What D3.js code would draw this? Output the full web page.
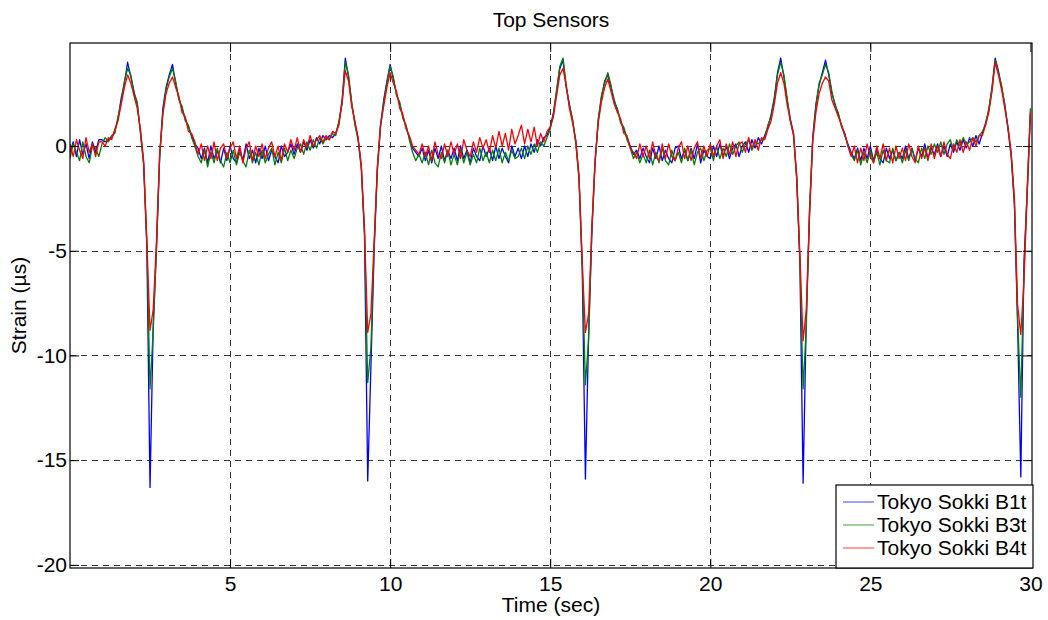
<!DOCTYPE html>
<html>
<head>
<meta charset="utf-8">
<script src="https://cdn.jsdelivr.net/npm/d3@7"></script>
<style>
  html, body { margin: 0; padding: 0; background: #fff; }
  svg { display: block; font-family: "Liberation Sans", Arial, Helvetica, sans-serif; }
</style>
</head>
<body>
<svg id="chart" width="1048" height="620"></svg>
<script>
const sampleStart = 0;
const sampleStep = 0.1;

const seriesNames = ["Tokyo Sokki B1t", "Tokyo Sokki B3t", "Tokyo Sokki B4t"];
const seriesColors = ["#0000ff", "#008000", "#ff0000"];

const b1t = [
  -0.3, 0.2, -0.5, 0.3, -0.4, 0.1, -0.6, 0.2, -0.3, 0.3,
  0.3, 0.2, 0.3, 0.4, 0.7, 1.3, 2.3, 3.0, 4.0, 3.3,
  2.6, 2.0, 0.7, -0.8, -4.8, -16.3, -8.5, -5.0, -0.5, 1.8,
  2.8, 3.4, 3.9, 3.0, 2.3, 1.8, 1.3, 0.9, 0.5, 0.1,
  -0.1, -0.6, -0.1, -0.8, 0.0, -0.6, -0.2, -0.8, -0.1, -0.7,
  0.0, -0.6, -0.8, -0.1, -0.7, 0.1, -0.6, -0.2, -0.8, -0.1,
  -0.6, 0.0, -0.7, -0.2, -0.5, -0.8, 0.0, -0.5, -0.3, 0.1,
  -0.4, 0.1, -0.3, 0.2, -0.2, 0.3, -0.1, 0.4, 0.1, 0.5,
  0.3, 0.5, 0.4, 0.6, 1.1, 2.2, 4.2, 3.3, 2.0, 1.1,
  0.4, -1.0, -4.3, -16.0, -10.5, -5.0, -1.0, 1.0, 2.2, 3.1,
  3.9, 3.2, 2.5, 2.0, 1.4, 0.9, 0.4, -0.1, -0.3, -0.5,
  -0.1, -0.7, -0.2, -0.8, -0.1, -0.6, 0.0, -0.7, -0.2, -0.6,
  -0.1, -0.7, 0.0, -0.6, -0.2, -0.8, -0.1, -0.5, -0.7, 0.0,
  -0.5, -0.1, -0.7, 0.0, -0.6, -0.1, -0.5, -0.8, 0.0, -0.5,
  -0.1, -0.6, 0.0, -0.5, 0.1, -0.3, 0.3, 0.0, 0.4, 0.5,
  0.9, 1.6, 2.6, 3.7, 4.1, 2.8, 2.0, 1.2, 0.2, -1.5,
  -5.8, -15.9, -9.0, -4.2, -0.8, 1.2, 2.3, 3.1, 3.4, 2.8,
  2.2, 1.7, 1.2, 0.8, 0.4, 0.0, -0.4, -0.2, -0.6, -0.1,
  -0.5, -0.8, -0.1, -0.6, 0.0, -0.7, -0.2, -0.6, -0.8, -0.1,
  0.0, -0.6, -0.2, -0.7, -0.1, -0.6, 0.1, -0.8, -0.2, -0.5,
  -0.6, 0.0, -0.5, 0.1, -0.5, 0.0, -0.6, -0.1, 0.1, -0.5,
  0.0, 0.2, -0.3, 0.3, -0.1, 0.4, 0.1, 0.5, 0.9, 1.5,
  2.3, 3.5, 4.2, 3.3, 2.2, 1.3, 0.6, -1.5, -5.6, -16.1,
  -8.2, -3.2, 0.4, 2.0, 2.9, 3.5, 4.1, 3.4, 2.5, 2.0,
  1.5, 1.0, 0.5, 0.1, -0.3, -0.6, -0.1, -0.7, -0.1, -0.6,
  0.0, -0.7, -0.2, -0.6, -0.8, -0.1, -0.6, -0.2, -0.7, -0.3,
  -0.6, 0.0, -0.6, -0.1, -0.7, -0.1, -0.5, 0.1, -0.6, -0.1,
  -0.4, 0.1, -0.5, 0.0, -0.5, 0.1, -0.3, 0.2, -0.2, 0.3,
  -0.1, 0.4, 0.0, 0.5, 0.1, 0.6, 1.1, 1.7, 2.8, 4.2,
  3.6, 2.8, 2.0, 0.8, -0.5, -2.8, -8.5, -15.8, -5.5, -2.2,
  1.5
];

const b3t = [
  -0.6, 0.1, -0.3, -0.7, 0.2, -0.5, -0.8, 0.0, -0.1, -0.5,
  0.1, 0.4, 0.2, 0.5, 0.6, 1.4, 2.1, 3.1, 3.7, 3.4,
  2.5, 2.1, 0.6, -0.9, -4.6, -11.6, -8.8, -4.8, -0.6, 1.6,
  2.7, 3.3, 3.7, 3.1, 2.2, 1.9, 1.2, 1.0, 0.4, 0.0,
  -0.5, -0.8, -0.2, -1.0, -0.3, -0.8, -0.1, -0.7, -1.0, -0.3,
  -0.8, -0.2, -0.9, -0.3, -0.7, -1.0, -0.2, -0.8, -0.3, -0.9,
  -0.2, -0.8, -0.4, -0.1, -0.9, -0.3, -0.8, -0.1, -0.7, -0.2,
  -0.6, -0.1, 0.1, -0.4, 0.2, -0.2, 0.3, -0.1, 0.4, 0.1,
  0.4, 0.3, 0.6, 0.5, 1.2, 2.0, 4.0, 3.4, 2.1, 1.0,
  0.3, -1.1, -4.1, -11.3, -9.6, -4.8, -1.2, 0.9, 2.1, 3.0,
  3.8, 3.3, 2.4, 2.1, 1.3, 1.0, 0.3, -0.3, -0.7, -0.4,
  -0.8, -0.3, -0.9, -0.2, -0.8, -1.0, -0.3, -0.8, -0.2, -0.9,
  -0.4, -0.9, -0.2, -0.8, -0.3, -0.9, -0.4, -0.8, -0.1, -0.7,
  -0.3, -0.8, -0.2, -0.7, -0.1, -0.8, -0.3, -0.7, -0.2, -0.6,
  -0.5, -0.1, -0.6, 0.0, -0.4, 0.1, -0.3, 0.2, 0.0, 0.4,
  0.8, 1.5, 2.7, 3.8, 4.2, 2.9, 1.9, 1.3, 0.1, -1.6,
  -5.6, -11.4, -9.2, -4.0, -0.9, 1.3, 2.4, 3.0, 3.5, 2.9,
  2.1, 1.8, 1.1, 0.9, 0.3, -0.1, -0.6, -0.3, -0.8, -0.4,
  -0.8, -0.2, -0.9, -0.3, -0.8, -0.1, -0.7, -0.9, -0.2, -0.7,
  -0.3, -0.8, -0.1, -0.7, -0.2, -0.9, -0.3, -0.1, -0.7, -0.2,
  -0.1, -0.7, 0.0, -0.6, -0.1, -0.5, 0.1, -0.4, 0.0, 0.2,
  -0.3, 0.1, 0.3, -0.2, 0.2, 0.1, 0.3, 0.4, 1.0, 1.4,
  2.2, 3.4, 4.0, 3.4, 2.3, 1.2, 0.5, -1.6, -5.4, -11.6,
  -8.6, -3.0, 0.3, 1.9, 3.0, 3.4, 3.9, 3.5, 2.6, 1.9,
  1.6, 0.9, 0.6, 0.0, -0.4, -0.7, -0.2, -0.9, -0.3, -0.8,
  -0.2, -0.8, -0.3, -0.9, -0.2, -0.7, -0.8, -0.1, -0.7, -0.3,
  -0.8, -0.2, -0.7, -0.1, -0.6, -0.8, -0.1, -0.6, 0.0, -0.4,
  0.1, -0.3, 0.2, -0.4, 0.1, 0.3, -0.2, 0.3, 0.0, 0.4,
  0.1, 0.2, 0.4, 0.2, 0.5, 0.7, 1.0, 1.8, 2.7, 4.1,
  3.5, 2.9, 1.9, 0.9, -0.4, -2.6, -8.2, -12.0, -6.0, -2.0,
  1.8
];

const b4t = [
  0.1, -0.5, 0.3, -0.2, -0.6, 0.4, -0.3, 0.1, -0.5, 0.2,
  0.2, 0.0, 0.4, 0.3, 0.8, 1.2, 2.0, 2.8, 3.4, 3.0,
  2.4, 1.8, 0.8, -0.7, -4.5, -8.8, -7.8, -4.6, -0.4, 1.5,
  2.5, 3.0, 3.3, 2.8, 2.4, 1.6, 1.4, 0.7, 0.6, 0.2,
  -0.4, 0.1, -0.7, 0.0, -0.6, 0.2, -0.7, -0.1, 0.1, -0.6,
  -0.1, 0.2, -0.6, 0.0, -0.8, -0.1, 0.2, -0.7, 0.0, -0.5,
  0.1, -0.6, -0.1, 0.2, -0.5, 0.0, -0.7, 0.1, -0.3, 0.3,
  -0.2, 0.4, -0.3, 0.3, -0.1, 0.5, 0.0, 0.3, 0.5, 0.2,
  0.5, 0.3, 0.7, 0.6, 1.0, 2.1, 3.6, 3.1, 1.9, 1.2,
  0.3, -0.9, -4.0, -8.9, -8.0, -4.6, -1.1, 1.0, 1.9, 2.8,
  3.5, 3.0, 2.6, 1.8, 1.5, 0.8, 0.5, 0.0, -0.2, -0.4,
  0.1, -0.5, 0.0, -0.7, 0.2, -0.4, -0.6, 0.1, -0.5, 0.2,
  -0.4, 0.1, -0.6, 0.3, -0.2, -0.5, 0.2, -0.3, 0.4, -0.1,
  0.3, -0.3, 0.5, -0.1, 0.7, 0.0, 0.6, -0.2, 0.8, 0.1,
  0.5, 1.0, 0.1, 0.8, 0.2, 0.9, 0.0, 0.6, 0.2, 0.7,
  0.9, 1.4, 2.4, 3.4, 3.7, 2.9, 1.8, 1.1, 0.3, -1.4,
  -5.5, -8.9, -8.0, -3.9, -0.7, 1.1, 2.1, 2.8, 3.2, 2.6,
  2.0, 1.6, 1.3, 0.6, 0.5, -0.1, -0.3, -0.6, 0.1, -0.5,
  0.0, -0.6, 0.2, -0.5, -0.7, 0.1, -0.6, 0.1, -0.5, -0.7,
  -0.1, 0.2, -0.6, 0.0, -0.7, -0.1, 0.2, -0.6, 0.0, -0.5,
  0.1, -0.5, 0.0, 0.3, -0.6, 0.1, -0.4, 0.2, -0.5, 0.1,
  0.2, -0.3, 0.4, -0.1, 0.3, -0.2, 0.4, 0.3, 0.8, 1.2,
  2.0, 3.0, 3.5, 3.0, 2.0, 1.2, 0.6, -1.4, -5.2, -9.3,
  -7.8, -3.4, 0.2, 1.6, 2.5, 3.0, 3.3, 3.1, 2.2, 1.8,
  1.4, 1.0, 0.6, 0.0, -0.5, 0.0, -0.8, -0.1, -0.7, 0.1,
  -0.5, -0.8, 0.0, -0.6, 0.1, -0.7, -0.1, -0.8, 0.0, -0.6,
  -0.1, -0.7, 0.1, -0.5, -0.8, 0.0, -0.6, -0.1, -0.7, 0.1,
  -0.6, 0.0, -0.5, 0.2, -0.4, -0.6, 0.1, -0.3, 0.3, -0.3,
  0.2, -0.2, 0.4, 0.0, 0.5, 0.5, 1.0, 1.6, 2.6, 4.0,
  3.4, 2.7, 1.8, 0.9, -0.3, -2.5, -7.6, -9.0, -6.4, -2.3,
  1.6
];

const xTicks = [5, 10, 15, 20, 25, 30];
const yTicks = [-20, -15, -10, -5, 0];
const xDomain = [0, 30.05];
const yDomain = [-20.15, 4.92];

const titleText = "Top Sensors";
const xLabel = "Time (sec)";
const yLabel = "Strain (\u00b5s)";

// ---- drawing ----
const svg = d3.select("#chart");
const L = 70, R = 1032, T = 43, B = 568;
const FS = 21;
const x = d3.scaleLinear().domain(xDomain).range([L, R]);
const y = d3.scaleLinear().domain(yDomain).range([B, T]);

const allSeries = [b1t, b3t, b4t].map((vals, k) => ({
  name: seriesNames[k],
  color: seriesColors[k],
  points: vals.map((v, i) => ({ t: sampleStart + i * sampleStep, v }))
}));

svg.append("rect").attr("x", 0).attr("y", 0).attr("width", 1048).attr("height", 620).attr("fill", "#fff");

// grid
const grid = svg.append("g");
grid.selectAll("line.gx").data(xTicks.filter(d => d < 30)).join("line")
  .attr("x1", d => Math.round(x(d)) + 0.5).attr("x2", d => Math.round(x(d)) + 0.5)
  .attr("y1", T).attr("y2", B)
  .attr("stroke", "#333").attr("stroke-width", 1).attr("stroke-dasharray", "6,5");
grid.selectAll("line.gy").data(yTicks).join("line")
  .attr("y1", d => Math.round(y(d)) + 0.5).attr("y2", d => Math.round(y(d)) + 0.5)
  .attr("x1", L).attr("x2", R)
  .attr("stroke", "#333").attr("stroke-width", 1).attr("stroke-dasharray", "6,5");

// clip
svg.append("clipPath").attr("id", "clip").append("rect")
  .attr("x", L).attr("y", T).attr("width", R - L).attr("height", B - T);

const line = d3.line().x(d => x(d.t)).y(d => y(d.v));
svg.append("g").attr("clip-path", "url(#clip)")
  .selectAll("path").data(allSeries).join("path")
  .attr("d", d => line(d.points))
  .attr("fill", "none")
  .attr("stroke", d => d.color)
  .attr("stroke-width", 1.3)
  .attr("stroke-linejoin", "round");

// axes (MATLAB style, ticks inside, plain hyphen minus)
const tickLen = 9;
const fmt = d => String(d);
const xAxisB = d3.axisBottom(x).tickValues(xTicks).tickFormat(fmt).tickSizeInner(-tickLen).tickSizeOuter(0).tickPadding(8);
const xAxisT = d3.axisTop(x).tickValues(xTicks).tickSizeInner(-tickLen).tickSizeOuter(0).tickFormat("");
const yAxisL = d3.axisLeft(y).tickValues(yTicks).tickFormat(fmt).tickSizeInner(-tickLen).tickSizeOuter(0).tickPadding(3);
const yAxisR = d3.axisRight(y).tickValues(yTicks).tickSizeInner(-tickLen).tickSizeOuter(0).tickFormat("");

function style(g) {
  g.attr("font-size", FS).attr("font-family", "'Liberation Sans', Arial, sans-serif");
  g.selectAll(".domain").remove();
  g.selectAll("line").attr("stroke", "#000");
  g.selectAll("text").attr("font-size", FS).attr("fill", "#000");
}
svg.append("g").attr("transform", `translate(0,${B})`).call(xAxisB).call(style);
svg.append("g").attr("transform", `translate(0,${T})`).call(xAxisT).call(style);
svg.append("g").attr("transform", `translate(${L},0)`).call(yAxisL).call(style);
svg.append("g").attr("transform", `translate(${R},0)`).call(yAxisR).call(style);

// frame
svg.append("rect").attr("x", L).attr("y", T).attr("width", R - L).attr("height", B - T)
  .attr("fill", "none").attr("stroke", "#000").attr("stroke-width", 1.2);

// labels
svg.append("text").attr("x", (L + R) / 2).attr("y", 27).attr("text-anchor", "middle")
  .attr("font-size", FS).text(titleText);
svg.append("text").attr("x", (L + R) / 2).attr("y", 612).attr("text-anchor", "middle")
  .attr("font-size", FS).text(xLabel);
svg.append("text").attr("transform", `translate(26,${(T + B) / 2}) rotate(-90)`)
  .attr("text-anchor", "middle").attr("font-size", FS).text(yLabel);

// legend
const lg = svg.append("g");
const lx = 836, ly = 485, lw = R + 1 - lx, lh = B - ly;
lg.append("rect").attr("x", lx).attr("y", ly).attr("width", lw).attr("height", lh)
  .attr("fill", "#fff").attr("stroke", "#000").attr("stroke-width", 1.2);
allSeries.forEach((s, i) => {
  const yy = ly + 17 + i * 23;
  lg.append("line").attr("x1", lx + 7).attr("x2", lx + 38).attr("y1", yy).attr("y2", yy)
    .attr("stroke", s.color).attr("stroke-width", 1).attr("opacity", 0.75);
  lg.append("text").attr("x", lx + 41).attr("y", yy + 7).attr("font-size", FS).text(s.name);
});
</script>
</body>
</html>
